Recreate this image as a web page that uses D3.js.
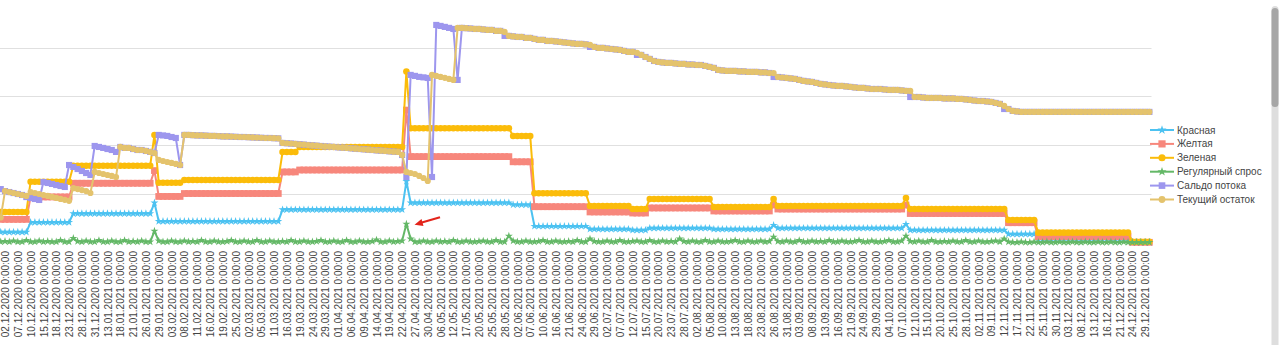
<!DOCTYPE html>
<html>
<head>
<meta charset="utf-8">
<script src="https://cdn.jsdelivr.net/npm/d3@7"></script>
<style>
html,body{margin:0;padding:0;background:#fff;overflow:hidden;}
svg{display:block;font-family:"Liberation Sans",Arial,sans-serif;}
</style>
</head>
<body>
<svg id="chart" width="1280" height="345"></svg>
<script>
// ---- categories (working days) ----
const dates = [
"01.12.2020","02.12.2020","03.12.2020","04.12.2020","07.12.2020","08.12.2020","09.12.2020","10.12.2020","11.12.2020","14.12.2020",
"15.12.2020","16.12.2020","17.12.2020","18.12.2020","21.12.2020","22.12.2020","23.12.2020","24.12.2020","25.12.2020","28.12.2020",
"29.12.2020","30.12.2020","31.12.2020","11.01.2021","12.01.2021","13.01.2021","14.01.2021","15.01.2021","18.01.2021","19.01.2021",
"20.01.2021","21.01.2021","22.01.2021","25.01.2021","26.01.2021","27.01.2021","28.01.2021","29.01.2021","01.02.2021","02.02.2021",
"03.02.2021","04.02.2021","05.02.2021","08.02.2021","09.02.2021","10.02.2021","11.02.2021","12.02.2021","15.02.2021","16.02.2021",
"17.02.2021","18.02.2021","19.02.2021","20.02.2021","24.02.2021","25.02.2021","26.02.2021","01.03.2021","02.03.2021","03.03.2021",
"04.03.2021","05.03.2021","09.03.2021","10.03.2021","11.03.2021","12.03.2021","15.03.2021","16.03.2021","17.03.2021","18.03.2021",
"19.03.2021","22.03.2021","23.03.2021","24.03.2021","25.03.2021","26.03.2021","29.03.2021","30.03.2021","31.03.2021","01.04.2021",
"02.04.2021","05.04.2021","06.04.2021","07.04.2021","08.04.2021","09.04.2021","12.04.2021","13.04.2021","14.04.2021","15.04.2021",
"16.04.2021","19.04.2021","20.04.2021","21.04.2021","22.04.2021","23.04.2021","26.04.2021","27.04.2021","28.04.2021","29.04.2021",
"30.04.2021","04.05.2021","05.05.2021","06.05.2021","07.05.2021","11.05.2021","12.05.2021","13.05.2021","14.05.2021","17.05.2021",
"18.05.2021","19.05.2021","20.05.2021","21.05.2021","24.05.2021","25.05.2021","26.05.2021","27.05.2021","28.05.2021","31.05.2021",
"01.06.2021","02.06.2021","03.06.2021","04.06.2021","07.06.2021","08.06.2021","09.06.2021","10.06.2021","11.06.2021","15.06.2021",
"16.06.2021","17.06.2021","18.06.2021","21.06.2021","22.06.2021","23.06.2021","24.06.2021","25.06.2021","28.06.2021","29.06.2021",
"30.06.2021","01.07.2021","02.07.2021","05.07.2021","06.07.2021","07.07.2021","08.07.2021","09.07.2021","12.07.2021","13.07.2021",
"14.07.2021","15.07.2021","16.07.2021","19.07.2021","20.07.2021","21.07.2021","22.07.2021","23.07.2021","26.07.2021","27.07.2021",
"28.07.2021","29.07.2021","30.07.2021","02.08.2021","03.08.2021","04.08.2021","05.08.2021","06.08.2021","09.08.2021","10.08.2021",
"11.08.2021","12.08.2021","13.08.2021","16.08.2021","17.08.2021","18.08.2021","19.08.2021","20.08.2021","23.08.2021","24.08.2021",
"25.08.2021","26.08.2021","27.08.2021","30.08.2021","31.08.2021","01.09.2021","02.09.2021","03.09.2021","06.09.2021","07.09.2021",
"08.09.2021","09.09.2021","10.09.2021","13.09.2021","14.09.2021","15.09.2021","16.09.2021","17.09.2021","20.09.2021","21.09.2021",
"22.09.2021","23.09.2021","24.09.2021","27.09.2021","28.09.2021","29.09.2021","30.09.2021","01.10.2021","04.10.2021","05.10.2021",
"06.10.2021","07.10.2021","08.10.2021","11.10.2021","12.10.2021","13.10.2021","14.10.2021","15.10.2021","18.10.2021","19.10.2021",
"20.10.2021","21.10.2021","22.10.2021","25.10.2021","26.10.2021","27.10.2021","28.10.2021","29.10.2021","01.11.2021","02.11.2021",
"03.11.2021","08.11.2021","09.11.2021","10.11.2021","11.11.2021","12.11.2021","15.11.2021","16.11.2021","17.11.2021","18.11.2021",
"19.11.2021","22.11.2021","23.11.2021","24.11.2021","25.11.2021","26.11.2021","29.11.2021","30.11.2021","01.12.2021","02.12.2021",
"03.12.2021","06.12.2021","07.12.2021","08.12.2021","09.12.2021","10.12.2021","13.12.2021","14.12.2021","15.12.2021","16.12.2021",
"17.12.2021","20.12.2021","21.12.2021","22.12.2021","23.12.2021","24.12.2021","27.12.2021","28.12.2021","29.12.2021","30.12.2021"
];
const timeSuffix = " 0:00:00";

// ---- series values ----
const krasnaya = [
11,11,11,11,11,11,11,21,21,21, 21,21,21,21,21,21,21,30,30,30, 30,30,30,30,30,30,30,30,30,30,
30,30,30,30,30,30,41,22,22,22, 22,22,22,22,22,22,22,22,22,22, 22,22,22,22,22,22,22,22,22,22,
22,22,22,22,22,22,34,34,34,34, 34,34,34,34,34,34,34,34,34,34, 34,34,34,34,34,34,34,34,34,34,
34,34,34,34,34,63,41,41,41,41, 41,41,41,41,41,41,41,41,41,41, 41,41,41,41,41,41,41,41,41,41,
39,39,39,39,39,17,17,17,17,17, 17,17,17,17,17,17,17,17,14,14, 14,14,14,14,14,14,14,14,13,13,
13,13,15,15,15,15,15,15,15,15, 15,15,15,15,15,15,15,14,14,14, 14,14,14,14,14,14,14,14,14,14,
14,18,15,15,15,15,15,15,15,15, 15,15,15,15,15,15,15,15,15,15, 15,15,15,15,15,15,15,15,15,15,
15,15,19,13,13,13,13,13,13,13, 13,13,13,13,13,13,13,13,13,13, 13,13,13,13,13,13,9,9,9,9,
9,9,9,4,4,4,4,4,4,4, 4,4,4,4,4,4,4,4,4,4, 4,4,4,4,4,0.5,0.5,0.5,0.5,0.5
];
const zheltaya = [
24,24,24,24,24,24,24,47,47,47, 47,47,47,47,47,47,47,61,61,61, 61,61,61,61,61,61,61,61,61,61,
61,61,61,61,61,61,74,47.5,47.5,47.5, 47.5,47.5,47.5,50.5,50.5,50.5,50.5,50.5,50.5,50.5, 50.5,50.5,50.5,50.5,50.5,50.5,50.5,50.5,50.5,50.5,
50.5,50.5,50.5,50.5,50.5,50.5,72.6,72.6,72.6,72.6, 74.6,74.6,74.6,74.6,74.6,74.6,74.6,74.6,74.6,74.6, 74.6,74.6,74.6,74.6,74.6,74.6,74.6,74.6,74.6,74.6,
74.6,74.6,74.6,74.6,74.6,136,88.3,88.3,88.3,88.3, 88.3,88.3,88.3,88.3,88.3,88.3,88.3,88.3,88.3,88.3, 88.3,88.3,88.3,88.3,88.3,88.3,88.3,88.3,88.3,88.3,
83,83,83,83,83,37,37,37,37,37, 37,37,37,37,37,37,37,37,31.6,31.6, 31.6,31.6,31.6,31.6,31.6,31.6,31.6,31.6,30.5,30.5,
30.5,30.5,35.7,35.7,35.7,35.7,35.7,35.7,35.7,35.7, 35.7,35.7,35.7,35.7,35.7,35.7,35.7,32.6,32.6,32.6, 32.6,32.6,32.6,32.6,32.6,32.6,32.6,32.6,32.6,32.6,
32.6,38.7,34.6,34.6,34.6,34.6,34.6,34.6,34.6,34.6, 34.6,34.6,34.6,34.6,34.6,34.6,34.6,34.6,34.6,34.6, 34.6,34.6,34.6,34.6,34.6,34.6,34.6,34.6,34.6,34.6,
34.6,34.6,38.7,30,30,30,30,30,30,30, 30,30,30,30,30,30,30,30,30,30, 30,30,30,30,30,30,20.6,20.6,20.6,20.6,
20.6,20.6,20.6,6.3,6.3,6.3,6.3,6.3,6.3,6.3, 6.3,6.3,6.3,6.3,6.3,6.3,6.3,6.3,6.3,6.3, 6.3,6.3,6.3,6.3,6.3,0.5,0.5,0.5,0.5,0.5
];
const zelenaya = [
31.6,31.6,31.6,31.6,31.6,31.6,31.6,62.6,62.6,62.6, 62.6,62.6,62.6,62.6,62.6,62.6,62.6,79,79,79, 79,79,79,79,79,79,79,79,79,79,
79,79,79,79,79,79,110.5,61.6,61.6,61.6, 61.6,61.6,61.6,64.4,64.4,64.4,64.4,64.4,64.4,64.4, 64.4,64.4,64.4,64.4,64.4,64.4,64.4,64.4,64.4,64.4,
64.4,64.4,64.4,64.4,64.4,64.4,93,93,93,93, 98.2,98.2,98.2,98.2,98.2,98.2,98.2,98.2,98.2,98.2, 98.2,98.2,98.2,98.2,98.2,98.2,98.2,98.2,98.2,98.2,
98.2,98.2,98.2,98.2,98.2,175.4,117.4,117.4,117.4,117.4, 117.4,117.4,117.4,117.4,117.4,117.4,117.4,117.4,117.4,117.4, 117.4,117.4,117.4,117.4,117.4,117.4,117.4,117.4,117.4,117.4,
109.5,109.5,109.5,109.5,109.5,50.7,50.7,50.7,50.7,50.7, 50.7,50.7,50.7,50.7,50.7,50.7,50.7,50.7,37.7,37.7, 37.7,37.7,37.7,37.7,37.7,37.7,37.7,37.7,34.6,34.6,
34.6,34.6,44.9,44.9,44.9,44.9,44.9,44.9,44.9,44.9, 44.9,44.9,44.9,44.9,44.9,44.9,44.9,36.7,36.7,36.7, 36.7,36.7,36.7,36.7,36.7,36.7,36.7,36.7,36.7,36.7,
36.7,44.9,37.7,37.7,37.7,37.7,37.7,37.7,37.7,37.7, 37.7,37.7,37.7,37.7,37.7,37.7,37.7,37.7,37.7,37.7, 37.7,37.7,37.7,37.7,37.7,37.7,37.7,37.7,37.7,37.7,
37.7,37.7,45.9,34.6,34.6,34.6,34.6,34.6,34.6,34.6, 34.6,34.6,34.6,34.6,34.6,34.6,34.6,34.6,34.6,34.6, 34.6,34.6,34.6,34.6,34.6,34.6,23.4,23.4,23.4,23.4,
23.4,23.4,23.4,10.4,10.4,10.4,10.4,10.4,10.4,10.4, 10.4,10.4,10.4,10.4,10.4,10.4,10.4,10.4,10.4,10.4, 10.4,10.4,10.4,10.4,10.4,1.1,1.1,1.1,1.1,1.1
];
const regularDemand = [
1,1.5,1,2,1,1,2.5,1,1,2, 1,1.5,1,1,2.5,1,1,4.6,1.5,1, 2,1,1,2.5,1,1,2,1,1,2.5,
1,1.5,1,2,1,1,12,2,1,1, 2,1,1,2,1,1.5,1,2.5,1,1, 2,1,1,1.5,2.5,1,1,2,1,1,
2.5,1,1,2,1,1,1.5,1,2.5,1, 1,2,1,1,1.5,2.5,1,1,2,1, 1,2.5,1,1,2,1,1,1.5,3,1,
1,2,1,1.5,2,19.3,4,1,1,2, 1,1,2,1,1.5,1,2.5,1,1,2, 1,1,1.5,2,1,1,2.5,1,1,7,
2,1,1,2,1,1,1.5,2.5,1,1, 2,1,1,1.5,1,2.5,1,1,4,1.5, 1,1,2,1,1,2.5,1,1,1.5,2,
1,1,2.5,1,1,2,1,1.5,1,4, 1.5,1,2,1,1,2.5,1,1,2,1, 1,1.5,2.5,1,1,2,1,1,2,1,
1.5,6,1.5,1,2,1,1,2.5,1,1, 2,1,1.5,1,2.5,1,1,2,1,1, 1.5,2.5,1,1,2,1,1,1.5,2.5,1,
1,2,7,1.5,1,2,1,1,2.5,1, 1,1.5,1,2,1,1,2.5,1,1,2, 1,1,1.5,2,1,4,1,0.5,0.5,1,
0.5,0.5,1,0.5,0.5,1,0.5,0.5,1,0.5, 0.5,1,0.5,0.5,1,0.5,0.5,1,0.5,0.5, 1,0.5,0.5,1,0.5,0.5,0.5,0.5,0.5,0.5
];
const tekushiy = [
26,53,52,51,50,49,48,52,51,50, 49,48,47,46,45,44,43,56,55,54, 53,51,72.6,71.5,70.5,69.5,68.5,67.4,98.2,97.2,
97.2,96.1,95.1,95.1,94.1,93.1,92,84.9,83.8,82.8, 81.8,80.8,79.7,110.5,110.5,110.3,110,110,109.8,109.5, 109.5,109.3,109,109,108.8,108.6,108.4,108.4,108.2,108,
107.8,107.6,107.4,107.4,107.2,107,102.3,102,101.7,101.3, 101,100.6,100.2,99.9,99.5,99.2,98.8,98.5,98.2,97.8, 97.5,97.2,96.8,96.4,96.1,95.8,95.4,95.1,94.7,94.4,
94.1,93.7,93.4,93.1,90,72.6,71.5,70.5,68.5,66.4, 63.3,172,171,170,169,167.9,166.9,220.2,220.2,219.9, 219.6,219.1,219.1,218.6,218.1,218.1,217.1,217.1,216.1,212,
211.5,210.9,210.9,209.9,209.9,208.9,207.9,207.9,206.8,206.8, 206.3,205.8,205.3,204.8,204.3,203.8,203.8,203.3,202.7,200.7, 199.7,199.7,199.1,198.6,198.1,197.6,196.6,195.6,195.6,194.6,
192.5,190.4,188.4,186.3,185.3,184.8,184.3,184.3,183.8,183.3, 183.3,182.7,182.7,182.2,182.2,181.2,180.2,179.2,177.1,176.6, 176.1,176.1,176.1,175.6,175.6,175.1,175.1,175.1,174.6,174.6,
174,174,169.9,169.4,168.9,168.4,167.9,166.9,165.9,165.3, 164.8,163.8,162.8,162.3,161.7,161.2,160.7,160.7,160.2,159.7, 159.2,158.7,158.7,158.1,157.6,157.6,157.6,157.1,156.6,156.6,
156.6,156.1,155.6,155.6,149.4,149.4,148.9,148.4,148.4,148.4, 148.4,147.9,147.9,147.9,147.4,147.4,146.9,146.4,145.8,145.3, 145.3,144.8,144.3,143.3,142.3,140.2,137.1,135.1,134.6,134.1,
134.1,134.1,134.1,134.1,134.1,134.1,134.1,134.1,134.1,134.1, 134.1,134.1,134.1,134.1,134.1,134.1,134.1,134.1,134.1,134.1, 134.1,134.1,134.1,134.1,134.1,134.1,134.1,134.1,134.1,134.1
];
const saldo = [
55,53,52,51,50,49,46.9,45.9,44.9,43.9, 62.3,61.3,60.3,59.2,58.2,57.2,79.7,77.7,75.6,73.6, 71.5,69.5,99.2,98.2,97.2,96.1,95.1,93.1,98.2,97.2,
97.2,96.1,95.1,95.1,94.1,93.1,92,110.5,110,109.5, 108.4,107.4,79.7,110.5,110.5,110.3,110,110,109.8,109.5, 109.5,109.3,109,109,108.8,108.6,108.4,108.4,108.2,108,
107.8,107.6,107.4,107.4,107.2,107,102.3,102,101.7,101.3, 101,100.6,100.2,99.9,99.5,99.2,98.8,98.5,98.2,97.8, 97.5,97.2,96.8,96.4,96.1,95.8,95.4,95.1,94.7,94.4,
94.1,93.7,93.4,93.1,90,67.4,172,171,170,169.5, 168.9,67.4,223.2,222.2,221.2,220.2,219.1,166.9,220.2,219.9, 219.6,219.1,219.1,218.6,218.1,218.1,217.1,217.1,212,212,
211.5,210.9,210.9,209.9,209.9,208.9,207.9,207.9,206.8,206.8, 206.3,205.8,205.3,204.8,204.3,203.8,203.8,203.3,200.7,200.7, 199.7,199.7,199.1,198.6,198.1,197.6,196.6,195.6,195.6,192.5,
192.5,190.4,188.4,186.3,185.3,184.8,184.3,184.3,183.8,183.3, 183.3,182.7,182.7,182.2,182.2,181.2,180.2,179.2,177.1,176.6, 176.1,176.1,176.1,175.6,175.6,175.1,175.1,175.1,174.6,174.6,
174,169.9,169.9,169.4,168.9,168.4,167.9,166.9,165.9,165.3, 164.8,163.8,162.8,162.3,161.7,161.2,160.7,160.7,160.2,159.7, 159.2,158.7,158.7,158.1,157.6,157.6,157.6,157.1,156.6,156.6,
156.6,156.1,155.6,149.4,149.4,149.4,148.9,148.4,148.4,148.4, 148.4,147.9,147.9,147.9,147.4,147.4,146.9,146.4,145.8,145.3, 145.3,144.8,144.3,143.3,142.3,137.1,137.1,135.1,134.6,134.1,
134.1,134.1,134.1,134.1,134.1,134.1,134.1,134.1,134.1,134.1, 134.1,134.1,134.1,134.1,134.1,134.1,134.1,134.1,134.1,134.1, 134.1,134.1,134.1,134.1,134.1,134.1,134.1,134.1,134.1,134.1
];
const seriesNames = ["Красная","Желтая","Зеленая","Регулярный спрос","Сальдо потока","Текущий остаток"];
const gridValues = [50,100,150,200];

// ---- styles ----
const styles = [
  {color:"#4cc2f1", shape:d3.symbolStar,   size:20},
  {color:"#f7877c", shape:d3.symbolSquare, size:46},
  {color:"#fbbc0a", shape:d3.symbolCircle, size:34},
  {color:"#64b867", shape:d3.symbolStar,   size:20},
  {color:"#9d96ee", shape:d3.symbolSquare, size:38},
  {color:"#e4c36d", shape:d3.symbolCircle, size:30}
];
const seriesData = [krasnaya, zheltaya, zelenaya, regularDemand, saldo, tekushiy];

const svg = d3.select("#chart");
const x = d3.scalePoint().domain(dates).range([-1.4, 1151.5]).padding(0.5);
const y = d3.scaleLinear().domain([0, 250]).range([242.8, -1.2]);

// grid
svg.append("g").selectAll("line").data(gridValues).join("line")
  .attr("x1", -1.4).attr("x2", 1151.5)
  .attr("y1", d => Math.round(y(d)) + 0.5).attr("y2", d => Math.round(y(d)) + 0.5)
  .attr("stroke", "#e0e0e0").attr("stroke-width", 1);

// x axis labels
const xAxis = d3.axisBottom(x)
  .tickValues(dates.filter((d, i) => i % 3 === 1))
  .tickSize(0)
  .tickFormat(d => d + timeSuffix);
const gx = svg.append("g").attr("transform", "translate(0,251)").call(xAxis);
gx.select(".domain").remove();
gx.selectAll("text")
  .attr("transform", "rotate(-90)")
  .attr("text-anchor", "end")
  .attr("x", 0).attr("y", 0).attr("dy", "0.36em")
  .attr("fill", "#444").style("font-size", "10px")
  .style("font-family", "'Liberation Sans', Arial, sans-serif");

// series
const line = d3.line().x((d, i) => x(dates[i])).y(d => y(d));
seriesData.forEach((vals, k) => {
  const st = styles[k];
  const g = svg.append("g");
  g.append("path").datum(vals).attr("d", line)
    .attr("fill", "none").attr("stroke", st.color).attr("stroke-width", 2)
    .attr("stroke-linejoin", "round");
  g.selectAll("path.pt").data(vals).join("path").attr("class", "pt")
    .attr("transform", (d, i) => `translate(${x(dates[i])},${y(d)})`)
    .attr("d", d3.symbol().type(st.shape).size(st.size))
    .attr("fill", st.color);
});

// annotation arrow
svg.append("path").attr("d", "M440,217.3 L421,222.8")
  .attr("stroke", "#e3241b").attr("stroke-width", 2.2).attr("fill", "none");
svg.append("path").attr("d", "M414.5,224.8 L421.5,219 L423.5,226 Z").attr("fill", "#e3241b");

// legend
const leg = svg.append("g").attr("transform", "translate(1150,130)");
seriesNames.forEach((name, k) => {
  const st = styles[k];
  const gy = k * 13.9;
  leg.append("line").attr("x1", 0).attr("x2", 24).attr("y1", gy).attr("y2", gy)
    .attr("stroke", st.color).attr("stroke-width", 2);
  leg.append("path").attr("transform", `translate(12,${gy})`)
    .attr("d", d3.symbol().type(st.shape).size(st.size + 6)).attr("fill", st.color);
  leg.append("text").attr("x", 27).attr("y", gy).attr("dy", "0.35em")
    .attr("fill", "#444").style("font-size", "10px").text(name);
});

// scrollbar (screen artefact)
svg.append("rect").attr("x", 1271.5).attr("y", 6).attr("width", 7).attr("height", 345)
  .attr("rx", 3.5).attr("fill", "#dedede");
svg.append("rect").attr("x", 1271.5).attr("y", 8).attr("width", 7).attr("height", 99)
  .attr("rx", 3.5).attr("fill", "#a6a6a6");
</script>
</body>
</html>
